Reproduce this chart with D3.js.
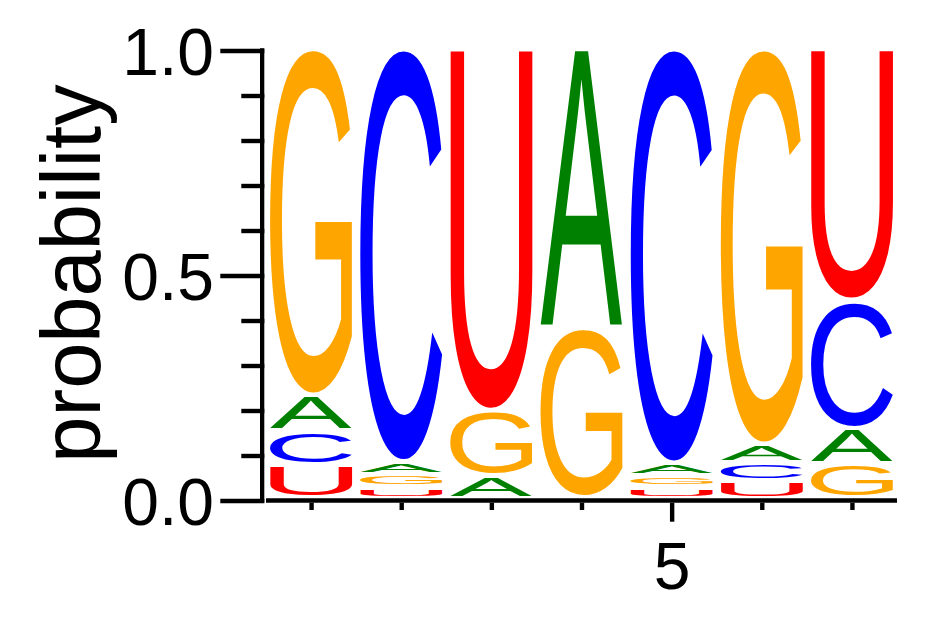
<!DOCTYPE html>
<html>
<head>
<meta charset="utf-8">
<script src="https://cdn.jsdelivr.net/npm/d3@7"></script>
<style>
  html, body { margin: 0; padding: 0; background: #fff; }
  svg { display: block; }
  text { font-family: "Liberation Sans", Arial, Helvetica, sans-serif; }
</style>
</head>
<body>
<svg id="chart" width="942" height="617"></svg>
<script>
// ---- data (bottom-to-top order is by ascending probability) ----
const positions = [1, 2, 3, 4, 5, 6, 7];
const letters = ["A", "C", "G", "U"];
const probA = [0.078, 0.028, 0.051, 0.624, 0.027, 0.042, 0.079];
const probC = [0.076, 0.919, 0.000, 0.000, 0.922, 0.040, 0.284];
const probG = [0.771, 0.027, 0.144, 0.376, 0.026, 0.880, 0.077];
const probU = [0.075, 0.026, 0.805, 0.000, 0.025, 0.038, 0.560];
const yMajorTicks = [0, 0.5, 1.0];
const yMinorTicks = [0.1, 0.2, 0.3, 0.4, 0.6, 0.7, 0.8, 0.9];
const xLabeledTicks = [5];
const yLabel = "probability";

const probs = { A: probA, C: probC, G: probG, U: probU };
const colors = { A: "#008000", C: "#0000ff", G: "#ffa500", U: "#ff0000" };

const svg = d3.select("#chart");
const x = d3.scaleLinear().domain([0.5, 7.5]).range([266, 897]);
const y = d3.scaleLinear().domain([0, 1]).range([500.5, 50.5]);

// ---- glyph metrics via canvas ----
const FS = 200;
const ctx = document.createElement("canvas").getContext("2d");
ctx.font = FS + 'px "Liberation Sans", Arial, Helvetica, sans-serif';
function ink(ch) {
  const m = ctx.measureText(ch);
  let l = m.actualBoundingBoxLeft, r = m.actualBoundingBoxRight,
      a = m.actualBoundingBoxAscent, d = m.actualBoundingBoxDescent;
  if (!(r > 0) || !(a > 0)) { l = -0.02 * FS; r = 0.70 * FS; a = 0.716 * FS; d = 0.012 * FS; }
  return { l, r, a, d };
}
const metrics = {};
letters.forEach(L => metrics[L] = ink(L));

// ---- build stacks ----
const halfW = 41, gap = 4.8;
const glyphs = [];
positions.forEach((pos, i) => {
  const col = letters.map(L => ({ L, p: probs[L][i] })).filter(d => d.p > 0)
    .sort((a, b) => a.p - b.p);
  let cum = 0;
  col.forEach(d => {
    glyphs.push({ pos, L: d.L, lo: cum, hi: cum + d.p });
    cum += d.p;
  });
});

const gLet = svg.append("g").attr("class", "letters");
gLet.selectAll("text").data(glyphs).join("text")
  .text(d => d.L)
  .attr("font-size", FS)
  .attr("fill", d => colors[d.L])
  .attr("transform", d => {
    const m = metrics[d.L];
    const x0 = x(d.pos) - halfW, x1 = x(d.pos) + halfW;
    const yTop = y(d.hi), yBot = y(d.lo) - gap;
    const sx = (x1 - x0) / (m.l + m.r);
    const sy = Math.max(0.5, yBot - yTop) / (m.a + m.d);
    return `translate(${x0 + m.l * sx},${yTop + m.a * sy}) scale(${sx},${sy})`;
  });

// ---- y axis ----
const axisColor = "#000";
const yAxisX = 264.3;
const gyMinor = svg.append("g").attr("transform", `translate(${yAxisX},0)`)
  .call(d3.axisLeft(y).tickValues(yMinorTicks).tickSize(23).tickSizeOuter(0).tickFormat(""));
const gyMajor = svg.append("g").attr("transform", `translate(${yAxisX},0)`)
  .call(d3.axisLeft(y).tickValues(yMajorTicks).tickSize(44).tickSizeOuter(0)
    .tickPadding(6.3).tickFormat(d3.format(".1f")));
[gyMinor, gyMajor].forEach(g => {
  g.select(".domain").remove();
  g.selectAll(".tick line").attr("stroke", axisColor).attr("stroke-width", 4.4);
  g.selectAll(".tick text").attr("font-size", 66).attr("fill", "#000")
    .attr("dy", "0.36em").attr("font-family", '"Liberation Sans", Arial, sans-serif');
});
svg.append("line")
  .attr("x1", 262.15).attr("x2", 262.15)
  .attr("y1", y(1) - 2.2).attr("y2", y(0) + 2.2)
  .attr("stroke", axisColor).attr("stroke-width", 4.3);

// ---- x axis ----
const xAxisY = 502.7;
const xMinor = positions.filter(p => !xLabeledTicks.includes(p));
const gxMinor = svg.append("g").attr("transform", `translate(0,${xAxisY})`)
  .call(d3.axisBottom(x).tickValues(xMinor).tickSize(7.3).tickSizeOuter(0).tickFormat(""));
const gxMajor = svg.append("g").attr("transform", `translate(0,${xAxisY})`)
  .call(d3.axisBottom(x).tickValues(xLabeledTicks).tickSize(19).tickSizeOuter(0)
    .tickPadding(20.4).tickFormat(d3.format("d")));
[gxMinor, gxMajor].forEach(g => {
  g.select(".domain").remove();
  g.selectAll(".tick line").attr("stroke", axisColor).attr("stroke-width", 4.4);
  g.selectAll(".tick text").attr("font-size", 66).attr("fill", "#000")
    .attr("font-family", '"Liberation Sans", Arial, sans-serif');
});
svg.append("line")
  .attr("x1", x.range()[0]).attr("x2", x.range()[1])
  .attr("y1", 500.5).attr("y2", 500.5)
  .attr("stroke", axisColor).attr("stroke-width", 4.4);

// ---- y label ----
svg.append("text")
  .attr("transform", "translate(100,273.5) rotate(-90)")
  .attr("text-anchor", "middle")
  .attr("font-size", 83)
  .attr("fill", "#000")
  .text(yLabel);
</script>
</body>
</html>
